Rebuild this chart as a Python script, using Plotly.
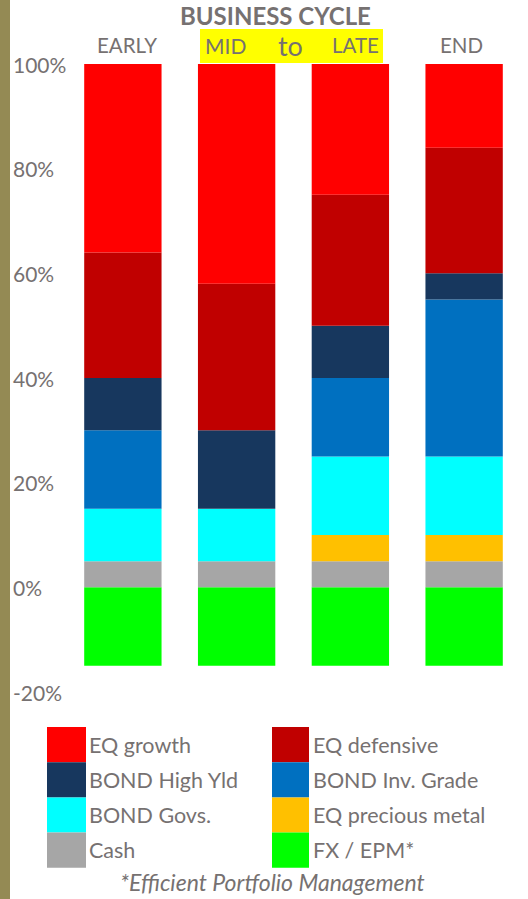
import plotly.graph_objects as go

# ---------------- data ----------------
phases = ["EARLY", "MID", "LATE", "END"]

# stacking order: bottom -> top
series_names = ["FX / EPM*", "Cash", "EQ precious metal", "BOND Govs.",
                "BOND Inv. Grade", "BOND High Yld", "EQ defensive", "EQ growth"]
series_colors = ["#00FF00", "#A6A6A6", "#FFC000", "#00FFFF",
                 "#0070C0", "#17375E", "#C00000", "#FF0000"]

fx_epm = [-15, -15, -15, -15]
cash = [5, 5, 5, 5]
eq_precious = [0, 0, 5, 5]
bond_govs = [10, 10, 15, 15]
bond_ig = [15, 0, 15, 30]
bond_hy = [10, 15, 10, 5]
eq_def = [24, 28, 25, 24]
eq_growth = [36, 42, 25, 16]
series_values = [fx_epm, cash, eq_precious, bond_govs, bond_ig, bond_hy, eq_def, eq_growth]

y_ticks = [100, 80, 60, 40, 20, 0, -20]
y_tick_labels = ["100%", "80%", "60%", "40%", "20%", "0%", "-20%"]

title_text = "BUSINESS CYCLE"
footnote = "*Efficient Portfolio Management"

# ---------------- layout helpers ----------------
W, H = 528, 899
ML, MR, MT, MB = 66, 7, 64, 207
PW, PH = W - ML - MR, H - MT - MB
FONT = "Lato"
GREY = "#767171"


def px(x):
    return (x - ML) / PW


def py(y):
    return (H - MB - y) / PH


fig = go.Figure()
for name, color, vals in zip(series_names, series_colors, series_values):
    fig.add_trace(go.Bar(x=phases, y=vals, name=name, marker_color=color,
                         marker_line_width=0, showlegend=False,
                         hovertemplate="%{x}: %{y}%<extra>" + name + "</extra>"))

shapes = []
annotations = []

# olive strip at left edge
shapes.append(dict(type="rect", xref="paper", yref="paper",
                   x0=px(0), x1=px(10), y0=py(H), y1=py(0),
                   fillcolor="#948A54", line_width=0, layer="below"))

# yellow highlight box behind "MID to LATE"
shapes.append(dict(type="rect", xref="paper", yref="paper",
                   x0=px(200), x1=px(383), y0=py(63), y1=py(29),
                   fillcolor="#FFFF00", line_width=0, layer="below"))

# title
annotations.append(dict(text="<b>" + title_text + "</b>", xref="paper", yref="paper",
                        x=px(275), y=py(0), showarrow=False, xanchor="center",
                        yanchor="top", borderpad=0,
                        font=dict(family=FONT, size=24, color=GREY)))

# phase labels
phase_label_pos = [("EARLY", 127, 20.5), ("MID", 225, 21), ("to", 290, 27),
                   ("LATE", 355, 20.5), ("END", 461, 20.5)]
for txt, xc, sz in phase_label_pos:
    annotations.append(dict(text=txt, xref="paper", yref="paper", x=px(xc), y=py(45),
                            showarrow=False, xanchor="center", yanchor="middle",
                            font=dict(family=FONT, size=sz, color=GREY)))

# y tick labels, left aligned
for v, lab in zip(y_ticks, y_tick_labels):
    annotations.append(dict(text=lab, xref="paper", yref="y", x=px(11), y=v,
                            showarrow=False, xanchor="left", yanchor="middle",
                            font=dict(family=FONT, size=21, color=GREY)))

# custom legend (row-wise, reversed stacking order)
legend_names = series_names[::-1]
legend_colors = series_colors[::-1]
col_sw = [(47, 86), (272, 309)]
col_tx = [87, 311]
row_top, row_h = 727, 35.2
for i, (name, color) in enumerate(zip(legend_names, legend_colors)):
    r, c = divmod(i, 2)
    y0 = row_top + r * row_h
    shapes.append(dict(type="rect", xref="paper", yref="paper",
                       x0=px(col_sw[c][0]), x1=px(col_sw[c][1]),
                       y0=py(y0 + row_h), y1=py(y0),
                       fillcolor=color, line_width=0))
    annotations.append(dict(text=name, xref="paper", yref="paper",
                            x=px(col_tx[c]), y=py(y0 + row_h / 2),
                            showarrow=False, xanchor="left", yanchor="middle",
                            font=dict(family=FONT, size=21.5, color=GREY)))

annotations.append(dict(text="<i>" + footnote + "</i>", xref="paper", yref="paper",
                        x=px(272), y=py(882), showarrow=False, xanchor="center",
                        yanchor="middle", font=dict(family=FONT, size=23, color=GREY)))

fig.update_layout(
    width=W, height=H,
    margin=dict(l=ML, r=MR, t=MT, b=MB, pad=0),
    barmode="relative", bargap=0.32,
    plot_bgcolor="white", paper_bgcolor="white",
    xaxis=dict(type="category", showticklabels=False, showgrid=False,
               zeroline=False, showline=False, ticks=""),
    yaxis=dict(range=[-20, 100], showticklabels=False, showgrid=False,
               zeroline=False, showline=False, ticks="", tickvals=y_ticks),
    shapes=shapes, annotations=annotations,
    font=dict(family=FONT, color=GREY),
)

fig.write_html("out.html")
